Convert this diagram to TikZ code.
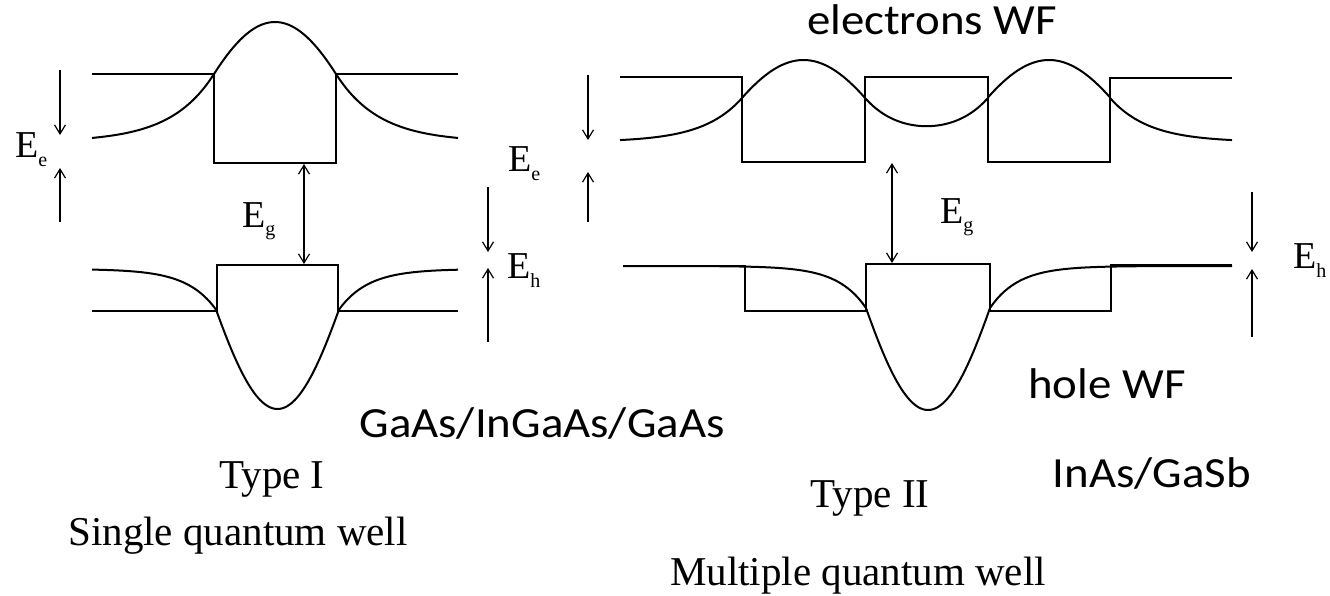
\documentclass[tikz,border=0pt]{standalone}
\usepackage{fontspec}
\setmainfont{Liberation Serif}
\newfontfamily\calib{Carlito}
\usetikzlibrary{arrows.meta}
\newcommand{\lowsub}[1]{\raisebox{-9pt}{\fontsize{20}{20}\selectfont #1}}
\tikzset{
  band/.style={line width=1.8pt, line join=miter},
  wf/.style={line width=2pt, line join=round},
  thinarrow/.style={line width=1.2pt, -{Straight Barb[length=9pt,width=11pt]}},
  dblarrow/.style={line width=1.2pt, {Straight Barb[length=9pt,width=11pt]}-{Straight Barb[length=9pt,width=11pt]}},
  elabel/.style={anchor=base west, inner sep=0pt, font=\fontsize{38}{44}\selectfont},
  sanslabel/.style={anchor=base, inner sep=0pt, xscale=1.09, font=\calib\fontsize{43}{50}\selectfont},
  seriflabel/.style={anchor=base, inner sep=0pt, font=\fontsize{41}{48}\selectfont}
}
\begin{document}
\begin{tikzpicture}[x=1pt, y=-1pt]
\useasboundingbox[fill=white] (0,0) rectangle (1330,596);

% ===== Left: Type I single quantum well =====
\draw[band] (92,74) -- (214,74) -- (214,163) -- (336,163) -- (336,74) -- (458,74);
\draw[wf] plot[domain=92:214, samples=50] (\x, {142-68*exp(-0.0231*(214-\x))})
  -- plot[domain=214:336, samples=60] (\x, {142-120*cos(0.91*(\x-275))})
  -- plot[domain=336:458, samples=50] (\x, {142-68*exp(-0.0231*(\x-336))});
\draw[band] (92,311) -- (217,311) -- (217,265) -- (338,265) -- (338,311) -- (458,311);
\draw[wf] plot[domain=92:217, samples=50] (\x, {269+42*exp(-0.034*(217-\x))})
  -- plot[domain=217:338, samples=60] (\x, {269+140*cos(1.19*(\x-277.5))})
  -- plot[domain=338:458, samples=50] (\x, {269+42*exp(-0.034*(\x-338))});

\coordinate (eeLa) at (60,70);  \coordinate (eeLb) at (60,135);
\coordinate (eeLc) at (60,222); \coordinate (eeLd) at (60,168);
\draw[thinarrow] (eeLa) -- (eeLb);
\draw[thinarrow] (eeLc) -- (eeLd);
\coordinate (egLa) at (304,164); \coordinate (egLb) at (304,264);
\draw[dblarrow] (egLa) -- (egLb);
\coordinate (ehLa) at (488,187); \coordinate (ehLb) at (488,252);
\coordinate (ehLc) at (488,342); \coordinate (ehLd) at (488,268);
\draw[thinarrow] (ehLa) -- (ehLb);
\draw[thinarrow] (ehLc) -- (ehLd);

\node[elabel] (EeL) at (15,158) {E\lowsub{e}};
\node[elabel] (EgL) at (242,227) {E\lowsub{g}};
\node[elabel] (EhL) at (507,278) {E\lowsub{h}};

% ===== Right: Type II multiple quantum well =====
\draw[band] (620,77) -- (742,77) -- (742,162) -- (865,162) -- (865,77) -- (988,77)
  -- (988,162) -- (1110,162) -- (1110,78) -- (1232,78);
\draw[wf] plot[domain=620:742, samples=50] (\x, {142-44*exp(-0.0256*(742-\x))})
  -- plot[domain=742:865, samples=60] (\x, {142-82*cos(0.935*(\x-803.5))})
  -- plot[domain=865:988, samples=60] (\x, {142-15.8*cosh(0.0274*(\x-926.5))})
  -- plot[domain=988:1110, samples=60] (\x, {142-82*cos(0.935*(\x-1049))})
  -- plot[domain=1110:1232, samples=50] (\x, {142-44*exp(-0.0256*(\x-1110))});
\draw[band] (623,266) -- (745,266) -- (745,311) -- (866,311) -- (866,264) -- (990,264)
  -- (990,311) -- (1111,311) -- (1111,265) -- (1232,265);
\draw[wf] plot[domain=623:866, samples=70] (\x, {266+42*exp(-0.035*(866-\x))})
  -- plot[domain=866:990, samples=60] (\x, {266+144*cos(1.178*(\x-928))})
  -- plot[domain=990:1232, samples=70] (\x, {266+42*exp(-0.035*(\x-990))});

\coordinate (eeRa) at (588,75);  \coordinate (eeRb) at (588,140);
\coordinate (eeRc) at (588,222); \coordinate (eeRd) at (588,172);
\draw[thinarrow] (eeRa) -- (eeRb);
\draw[thinarrow] (eeRc) -- (eeRd);
\coordinate (egRa) at (892,163); \coordinate (egRb) at (892,263);
\draw[dblarrow] (egRa) -- (egRb);
\coordinate (ehRa) at (1252,192); \coordinate (ehRb) at (1252,252);
\coordinate (ehRc) at (1252,337); \coordinate (ehRd) at (1252,269);
\draw[thinarrow] (ehRa) -- (ehRb);
\draw[thinarrow] (ehRc) -- (ehRd);

\node[elabel] (EeR) at (508,172) {E\lowsub{e}};
\node[elabel] (EgR) at (940,223) {E\lowsub{g}};
\node[elabel] (EhR) at (1293,268) {E\lowsub{h}};

% ===== Texts =====
\node[sanslabel] (elWF) at (932,35) {electrons WF};
\node[sanslabel] (hoWF) at (1107,398) {hole WF};
\node[sanslabel] (gaas) at (542,437) {GaAs/InGaAs/GaAs};
\node[sanslabel] (inas) at (1152,487) {InAs/GaSb};
\node[seriflabel] (t1) at (272,488) {Type I};
\node[seriflabel] (s1) at (238,545) {Single quantum well};
\node[seriflabel] (t2) at (870,507) {Type II};
\node[seriflabel] (m2) at (858,585) {Multiple quantum well};
\end{tikzpicture}
\end{document}
